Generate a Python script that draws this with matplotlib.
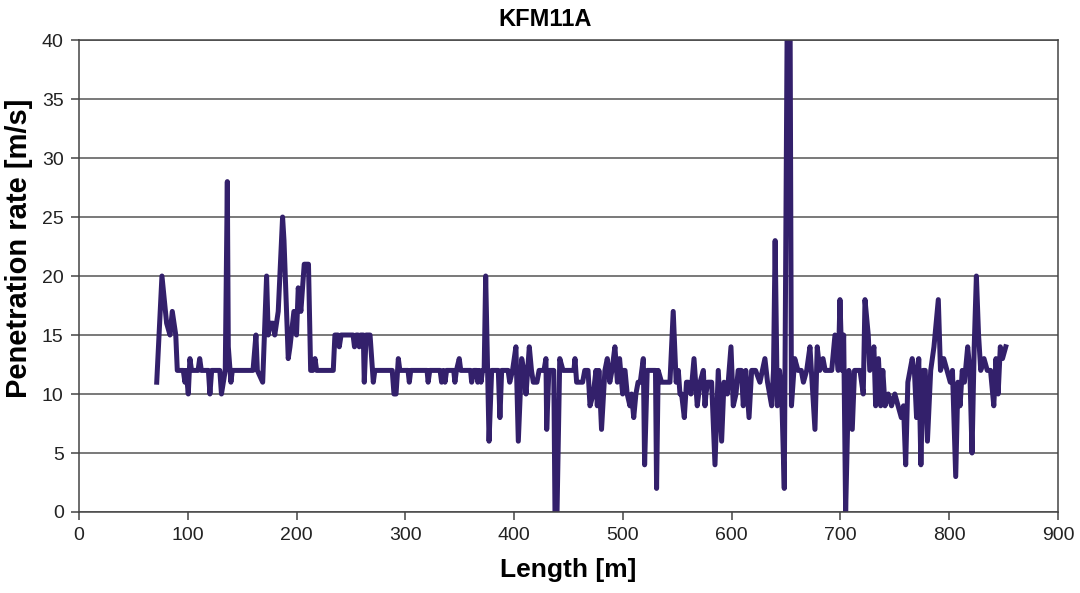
import matplotlib
matplotlib.use("Agg")
import matplotlib.pyplot as plt

length = [71.5, 76.3, 80.6, 83.7, 85.8, 89, 90.4, 95.9, 97.4, 98.5, 100.5, 102, 103.5, 109.5, 111, 112.5,
          119, 120.4, 122, 129.5, 131, 134.5, 136.4, 137.3, 139.7, 141, 160, 162.7, 164, 168.9,
          172.5, 174, 176, 178.6, 180, 183.2, 187.2, 188.5, 192.4, 194, 197.6, 200, 201.6, 204,
          207.1, 211, 213, 215, 217, 218.5, 233.8, 235.3, 238, 239.3, 241, 252, 253.3, 255,
          256.5, 257.7, 259, 261.4, 262.3, 264, 267.6, 270.6, 272, 288, 289.6, 291.5, 293.6, 295,
          302.5, 303.7, 305, 320, 321, 322.5, 332, 333.4, 335, 336.5, 338, 344.5, 345.6, 347,
          349.6, 351, 360, 361, 363, 365.5, 366.6, 368, 369.6, 371, 372.5, 373.9, 377, 379.4,
          385.5, 387, 388.6, 394.5, 396, 398.6, 401.7, 403.9, 407, 409, 411, 414, 416, 417.7, 421, 423,
          427.5, 429.3, 430, 432, 436.5, 437.6, 439.5, 442, 445, 455, 456, 457.5, 463, 465, 468,
          469.8, 472.8, 475.3, 476.5, 478, 480.4, 483.5, 485.7, 488, 490, 492.7, 495, 497, 499.8,
          500.4, 502, 504, 506.5, 508, 510, 512, 514, 516, 518.8, 520, 522.4, 530, 531, 532.5,
          535.6, 541.7, 543.3, 546.3, 549, 551, 552.5, 554, 556.5, 558.5, 560, 562.6, 565.4,
          568.4, 571, 574, 575.5, 576.4, 578, 581.6, 584.7, 587.7, 590.8, 593, 596, 599.4, 601.5,
          604, 606, 609, 610.7, 613, 616, 618.4, 622, 626, 630.6, 633, 636.8, 638.5, 640, 642,
          644, 646, 648.4, 651.5, 653.5, 655, 658, 661, 664, 666, 669, 672, 674, 676.6, 678.7,
          681, 684, 686, 692, 695, 698, 699.6, 701.5, 703, 704.8, 707.8, 710.9, 713, 718, 721,
          722.6, 725.6, 727, 730.8, 732.4, 735, 737, 739, 741, 744, 747, 750, 753, 756, 758, 760,
          762, 764, 766, 768, 770, 772, 774, 776, 778, 780, 783, 786, 788, 790, 792, 795, 798,
          801, 803, 806, 808, 810, 812, 814, 817, 819, 821, 823, 825, 827, 829, 832, 835, 838,
          841, 843, 845, 847, 849, 852]
rate = [11, 20, 16, 15, 17, 15, 12, 12, 11, 12, 10, 13, 12, 12, 13, 12,
        12, 10, 12, 12, 10, 12, 28, 14, 11, 12, 12, 15, 12, 11,
        20, 15, 16, 16, 15, 17, 25, 23, 13, 14, 17, 15, 19, 17,
        21, 21, 12, 12, 13, 12, 12, 15, 15, 14, 15, 15, 14, 15,
        15, 14, 15, 15, 11, 15, 15, 11, 12, 12, 10, 10, 13, 12,
        12, 11, 12, 12, 11, 12, 12, 11, 12, 11, 12, 12, 11, 12,
        13, 12, 12, 11, 12, 12, 11, 12, 11, 12, 12, 20, 6, 12,
        12, 8, 12, 12, 11, 12, 14, 6, 13, 12, 10, 14, 12, 11, 11, 12,
        12, 13, 7, 12, 12, 0, 0, 13, 12, 12, 13, 11, 11, 12, 12,
        9, 10, 12, 9, 12, 7, 12, 13, 11, 12, 14, 11, 13, 10,
        12, 12, 10, 9, 10, 8, 10, 11, 11, 13, 4, 12, 12, 2, 12,
        11, 11, 11, 17, 11, 12, 10, 10, 8, 11, 11, 10, 13,
        9, 11, 12, 9, 10, 11, 11, 4, 12, 6, 11, 10, 14, 9,
        10, 12, 12, 9, 12, 8, 12, 12, 11, 13, 11, 9, 12, 23, 9,
        12, 10, 2, 48, 48, 9, 13, 12, 12, 11, 12, 14, 11, 7, 14,
        12, 13, 12, 12, 15, 12, 18, 12, 15, 0, 12, 7, 12, 12, 10,
        18, 15, 12, 14, 9, 13, 9, 12, 9, 10, 9, 10, 9, 8, 9, 4,
        11, 12, 13, 12, 8, 13, 4, 12, 12, 6, 12, 14, 16, 18, 12, 13, 12,
        11, 12, 3, 11, 9, 12, 11, 14, 12, 5, 14, 20, 15, 12, 13, 12, 12,
        9, 13, 10, 14, 13, 14]

LINE_COLOR = "#33206b"
plt.rcParams["font.family"] = ["Liberation Sans", "DejaVu Sans"]

fig = plt.figure(figsize=(10.8, 5.93), dpi=100)
ax = fig.add_axes([0.0731, 0.1366, 0.9065, 0.7959])

ax.plot(length, rate, color=LINE_COLOR, lw=3.6, solid_joinstyle="round")

ax.set_xlim(0, 900)
ax.set_ylim(0, 40)
ax.set_xticks(range(0, 901, 100))
ax.set_yticks(range(0, 41, 5))
ax.yaxis.grid(True, color="#555555", lw=1.1)
ax.set_axisbelow(True)
for s in ax.spines.values():
    s.set_color("#444444")
    s.set_linewidth(1.1)
ax.tick_params(direction="out", length=6, width=1.1, color="#444444",
               labelsize=14, labelcolor="#222222", pad=5)

ax.set_title("KFM11A", fontsize=17, fontweight="bold", x=0.476, pad=10)
ax.set_xlabel("Length [m]", fontsize=19, fontweight="bold", labelpad=10)
ax.set_ylabel("Penetration rate [m/s]", fontsize=21, fontweight="bold")
ax.yaxis.set_label_coords(-0.047, 0.559)

fig.savefig("out.png", dpi=100)
